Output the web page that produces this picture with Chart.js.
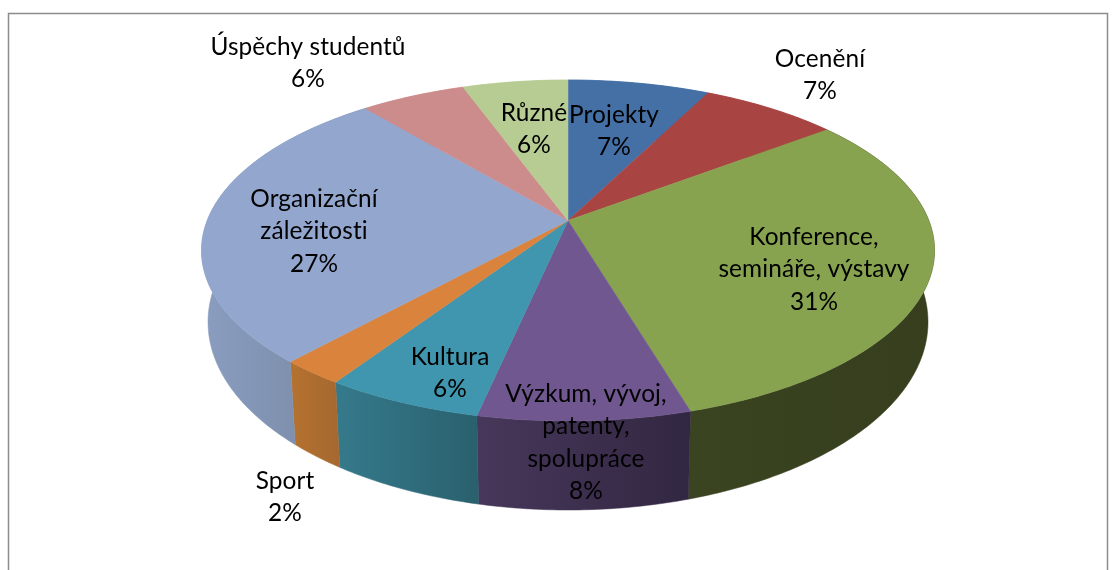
<!DOCTYPE html>
<html><head><meta charset="utf-8">
<style>html,body{margin:0;padding:0;background:#fff}#w{position:relative;width:1115px;height:570px}</style>
<script src="https://cdn.jsdelivr.net/npm/chart.js@4"></script>
</head><body><div id="w"><canvas id="c" width="1115" height="570"></canvas></div>
<script>
const categories = [["Projekty"],["Ocenění"],["Konference,","semináře, výstavy"],["Výzkum, vývoj,","patenty,","spolupráce"],["Kultura"],["Sport"],["Organizační","záležitosti"],["Úspěchy studentů"],["Různé"]];
const shares = [7.4,7.2,30.8,7.9,5.9,2.4,27.3,5.5,5.5];
const faceColors = ["#4470A6","#A84543","#87A34F","#70578F","#3F96AE","#D9833D","#92A6CE","#CC8C8C","#B7CC93"];
const wallLeft  = ["#4470A6","#A84543","#3A4420","#47375A","#357A8C","#B5722F","#8B9DC0","#CC8C8C","#B7CC93"];
const wallRight = ["#4470A6","#A84543","#363E1E","#322742","#2A606E","#A56830","#74869F","#CC8C8C","#B7CC93"];
const labelAt = [[614,115],[820,59],[814,237],[586,394],[450,357],[285,481],[314,199],[308,47],[534,113]];

const TOP = {x:568,y:250.5,rx:366.5,ry:170.5}, BOT = {x:568,y:322,rx:360,ry:188};
const APEX = 30/170.5, FONT = '24.4px Lato, Carlito, "Open Sans", sans-serif', LINE = 32.5;
function proj(a){
  const s=Math.sin(a), c=Math.cos(a), d=1+APEX*c;
  return [s*Math.sqrt(1-APEX*APEX)/d,(c+APEX)/d];
}
const on=(e,p)=>[e.x+e.rx*p[0], e.y-e.ry*p[1]];

const pie3d = {
  id:'pie3d',
  beforeDatasetDraw(chart){
    const ctx=chart.ctx, arcs=chart.getDatasetMeta(0).data;
    const spans=arcs.map(el=>[el.startAngle+Math.PI/2, el.endAngle+Math.PI/2]);
    ctx.save();
    arcs.forEach((el,i)=>{
      const [a,b]=spans[i], n=Math.max(4,Math.ceil((b-a)*80)), t=[],u=[];
      for(let k=0;k<=n;k++){const p=proj(a+(b-a)*k/n);t.push(on(TOP,p));u.push(on(BOT,p));}
      const xs=t.concat(u).map(q=>q[0]);
      const g=ctx.createLinearGradient(Math.min(...xs),0,Math.max(...xs),0);
      g.addColorStop(0,wallLeft[i]);g.addColorStop(1,wallRight[i]);
      ctx.beginPath();t.forEach((q,k)=>k?ctx.lineTo(q[0],q[1]):ctx.moveTo(q[0],q[1]));
      u.reverse().forEach(q=>ctx.lineTo(q[0],q[1]));ctx.closePath();
      ctx.fillStyle=g;ctx.strokeStyle=g;ctx.lineWidth=.5;ctx.fill();ctx.stroke();
    });
    const apex=[TOP.x,TOP.y-TOP.ry*APEX];
    arcs.forEach((el,i)=>{
      const [a,b]=spans[i], n=Math.max(4,Math.ceil((b-a)*80));
      ctx.beginPath();ctx.moveTo(apex[0],apex[1]);
      for(let k=0;k<=n;k++){const q=on(TOP,proj(a+(b-a)*k/n));ctx.lineTo(q[0],q[1]);}
      ctx.closePath();ctx.fillStyle=el.options.backgroundColor;ctx.strokeStyle=el.options.backgroundColor;
      ctx.lineWidth=.5;ctx.fill();ctx.stroke();
    });
    ctx.restore();
    return false;
  },
  afterDatasetsDraw(chart){
    const ctx=chart.ctx;
    ctx.save();ctx.font=FONT;ctx.letterSpacing='0.1px';ctx.fillStyle='#000';ctx.textAlign='center';ctx.textBaseline='middle';
    categories.forEach((lines,i)=>{
      const all=lines.concat(Math.round(shares[i])+'%');
      all.forEach((s,k)=>ctx.fillText(s,labelAt[i][0],labelAt[i][1]+k*LINE));
    });
    ctx.restore();
  },
  beforeDraw(chart){
    const ctx=chart.ctx;ctx.save();ctx.strokeStyle='#8c8c8c';ctx.lineWidth=1.5;
    ctx.beginPath();ctx.moveTo(8.5,572);ctx.lineTo(8.5,13.5);ctx.lineTo(1107.5,13.5);ctx.lineTo(1107.5,572);ctx.stroke();ctx.restore();
  }
};
new Chart(document.getElementById('c'),{
  type:'pie',
  data:{labels:categories.map(l=>l.join(' ')),datasets:[{data:shares,backgroundColor:faceColors,borderWidth:0}]},
  options:{responsive:false,animation:false,plugins:{legend:{display:false},tooltip:{enabled:false}}},
  plugins:[pie3d]
});
</script></body></html>
